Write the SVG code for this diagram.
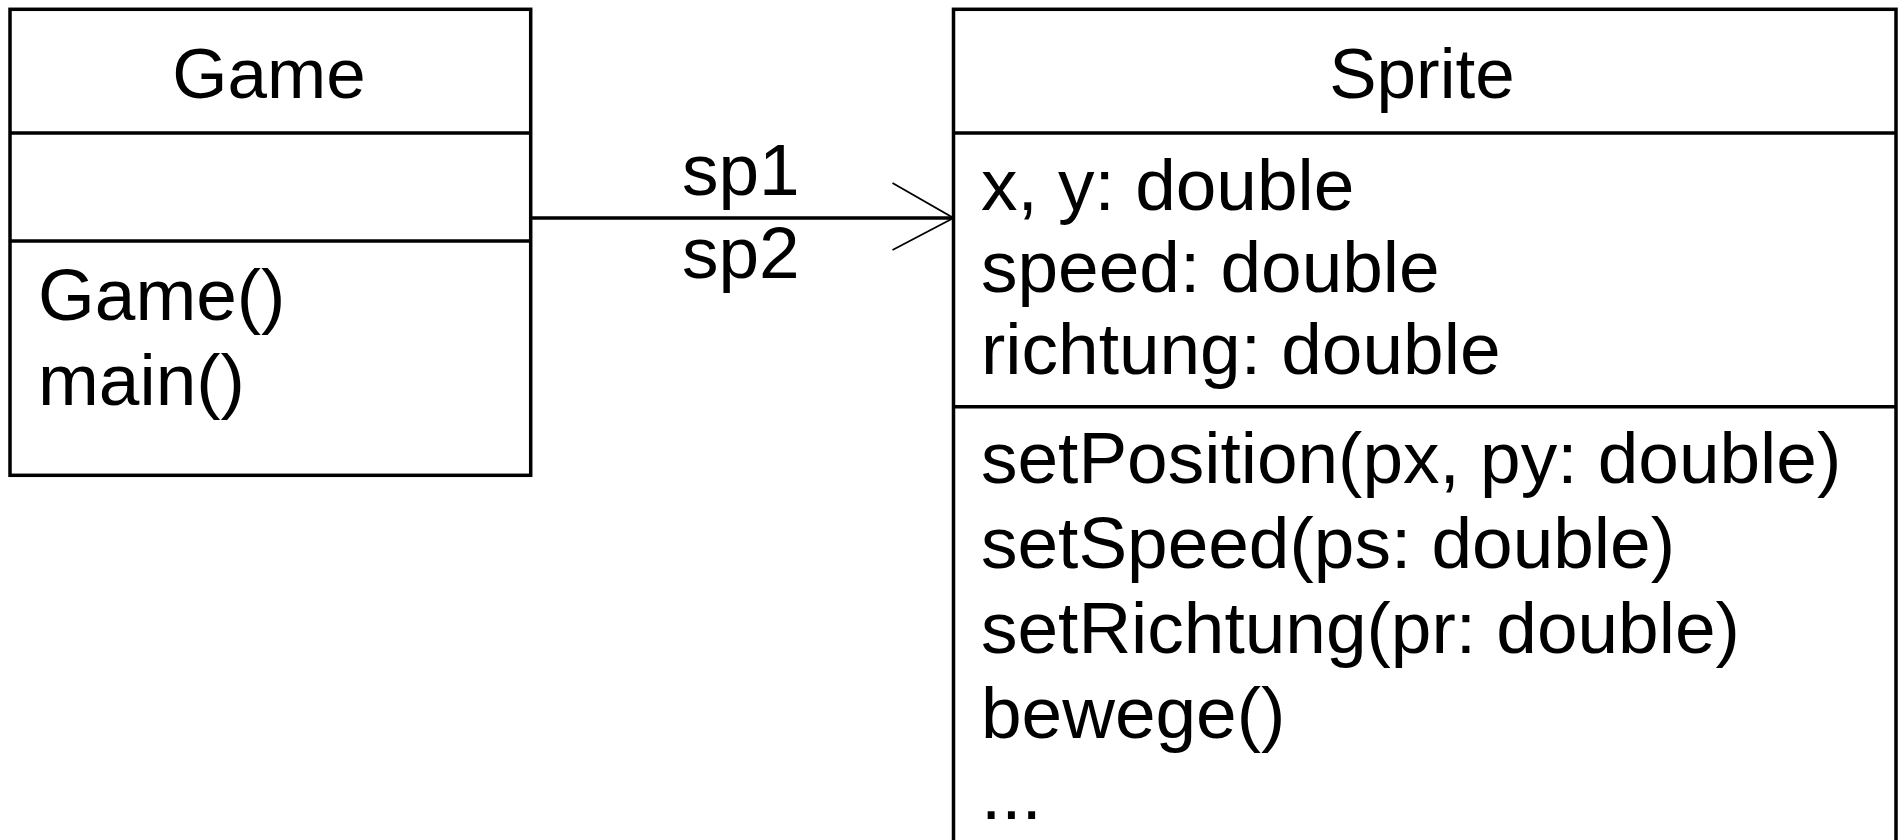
<svg xmlns="http://www.w3.org/2000/svg" width="1900" height="840" viewBox="0 0 1900 840">
  <style>
    .box { fill: #ffffff; stroke: #000000; stroke-width: 3.5; }
    .sep { stroke: #000000; stroke-width: 3.5; }
    .txt { font-family: "Liberation Sans", Arial, sans-serif; font-size: 73px; fill: #000000; }
    .title { text-anchor: middle; font-size: 71px; }
    .assoc { stroke: #000000; stroke-width: 3.5; fill: none; }
    .head { stroke: #000000; stroke-width: 1.8; fill: none; }
  </style>
  <rect width="1900" height="840" fill="#ffffff"/>

  <!-- Game class -->
  <g id="game">
    <rect class="box" x="10" y="9.3" width="520.7" height="466"/>
    <line class="sep" x1="10" y1="133" x2="530.7" y2="133"/>
    <line class="sep" x1="10" y1="241" x2="530.7" y2="241"/>
    <text class="txt title" x="269" y="98">Game</text>
    <text class="txt" x="38" y="320">Game()</text>
    <text class="txt" x="38" y="405">main()</text>
  </g>

  <!-- Sprite class -->
  <g id="sprite">
    <rect class="box" x="953.5" y="9.3" width="942.5" height="860"/>
    <line class="sep" x1="953.5" y1="133" x2="1896" y2="133"/>
    <line class="sep" x1="953.5" y1="406.7" x2="1896" y2="406.7"/>
    <text class="txt title" x="1422" y="98">Sprite</text>
    <text class="txt" x="981" y="210">x, y: double</text>
    <text class="txt" x="981" y="292">speed: double</text>
    <text class="txt" x="981" y="374">richtung: double</text>
    <text class="txt" x="981" y="483">setPosition(px, py: double)</text>
    <text class="txt" x="981" y="568">setSpeed(ps: double)</text>
    <text class="txt" x="981" y="653">setRichtung(pr: double)</text>
    <text class="txt" x="981" y="738">bewege()</text>
    <text class="txt" x="981" y="819">...</text>
  </g>

  <!-- Association Game -> Sprite -->
  <g id="connectors">
    <line class="assoc" x1="530.7" y1="218" x2="953.5" y2="218"/>
    <polyline class="head" points="892.5,183 953.5,218 892.5,250"/>
    <text class="txt" x="682" y="195">sp1</text>
    <text class="txt" x="682" y="278">sp2</text>
  </g>
</svg>
